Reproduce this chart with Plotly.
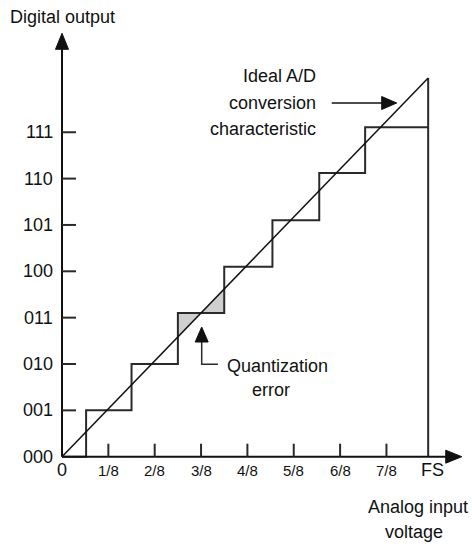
import plotly.graph_objects as go

# digital output codes (y) and analog input fractions (x)
codes = ["000", "001", "010", "011", "100", "101", "110", "111"]
x_labels = ["0", "1/8", "2/8", "3/8", "4/8", "5/8", "6/8", "7/8", "FS"]

# staircase transfer function (units of 1 LSB)
step_edges = [0, 0.52, 1.5, 2.5, 3.5, 4.54, 5.55, 6.54, 7.9]
step_levels = [0, 1, 2, 3.1, 4.1, 5.1, 6.12, 7.11]

# ideal characteristic end point (FS)
ideal_x = [0, 7.9]
ideal_y = [0, 8.17]

PX = 46.35  # pixels per LSB
W, H = 472, 544
X0, Y0 = 62, 456.7  # pixel position of origin
FONT = "Liberation Sans, Arial, sans-serif"
INK = "#111111"


def dx(px):
    return px / PX


def head(tx, ty, ux, uy, length=16, width=13):
    # filled arrowhead, tip at (tx, ty), pointing along (ux, uy)
    bx, by = tx - ux * dx(length), ty - uy * dx(length)
    px_, py_ = -uy * dx(width) / 2, ux * dx(width) / 2
    return dict(type="path", xref="x", yref="y",
                path=f"M{tx},{ty} L{bx + px_},{by + py_} L{bx - px_},{by - py_} Z",
                fillcolor=INK, line=dict(color=INK, width=1))


fig = go.Figure()

slope = ideal_y[1] / ideal_x[1]

# shaded quantization error around code 011
k = 3
lvl = step_levels[k]
xa, xb = step_edges[k], step_edges[k + 1]
xc = lvl / slope
fig.add_trace(go.Scatter(x=[xa, xa, xc, xa], y=[xa * slope, lvl, lvl, xa * slope],
                         fill="toself", fillcolor="#cfcfcf", mode="none", hoverinfo="skip"))
fig.add_trace(go.Scatter(x=[xc, xb, xb, xc], y=[lvl, lvl, xb * slope, lvl],
                         fill="toself", fillcolor="#cfcfcf", mode="none", hoverinfo="skip"))

# staircase
sx, sy = [0], [0]
for i in range(1, len(step_levels)):
    sx += [step_edges[i], step_edges[i]]
    sy += [step_levels[i - 1], step_levels[i]]
sx.append(step_edges[-1])
sy.append(step_levels[-1])
fig.add_trace(go.Scatter(x=sx, y=sy, mode="lines", line=dict(color="#2a2a2a", width=2),
                         hoverinfo="skip"))
# FS vertical
fig.add_trace(go.Scatter(x=[ideal_x[1], ideal_x[1]], y=[0, ideal_y[1]], mode="lines",
                         line=dict(color="#2a2a2a", width=2), hoverinfo="skip"))
# ideal line
fig.add_trace(go.Scatter(x=ideal_x, y=ideal_y, mode="lines", line=dict(color=INK, width=1.5),
                         hoverinfo="skip"))

shapes = []
# axes
shapes.append(dict(type="line", xref="x", yref="y", x0=0, y0=0, x1=0, y1=9.0,
                   line=dict(color=INK, width=2)))
shapes.append(dict(type="line", xref="x", yref="y", x0=0, y0=0, x1=8.45, y1=0,
                   line=dict(color=INK, width=2)))
shapes.append(head(0, 9.135, 0, 1))
shapes.append(head(8.624, 0, 1, 0))
# ticks
for i in range(1, len(codes)):
    shapes.append(dict(type="line", xref="x", yref="y", x0=0, y0=i, x1=dx(14), y1=i,
                       line=dict(color="#2a2a2a", width=2)))
for i in range(1, len(x_labels) - 1):
    shapes.append(dict(type="line", xref="x", yref="y", x0=i, y0=0, x1=i, y1=dx(13),
                       line=dict(color="#2a2a2a", width=2)))
# callout arrows
shapes.append(dict(type="line", xref="x", yref="y", x0=5.819, y0=7.631, x1=7.0, y1=7.631,
                   line=dict(color=INK, width=1.5)))
shapes.append(head(7.221, 7.631, 1, 0, length=15, width=13))
shapes.append(dict(type="path", xref="x", yref="y",
                   path="M3.366,1.993 L3.014,1.993 L3.014,2.55",
                   line=dict(color="#2a2a2a", width=1.5)))
shapes.append(head(3.014, 2.798, 0, 1, length=15, width=13))

ann = []
ann.append(dict(x=0, y=9.487, text="Digital output", font=dict(size=18)))
for i, c in enumerate(codes):
    ann.append(dict(x=-0.151, y=i, text=c, xanchor="right", font=dict(size=18)))
for i, t in enumerate(x_labels):
    size = 18 if t in ("0", "FS") else 15
    ann.append(dict(x=i, y=-0.287, text=t, font=dict(size=size)))
ann.append(dict(x=7.68, y=-1.085, text="Analog input", font=dict(size=18)))
ann.append(dict(x=7.6, y=-1.625, text="voltage", font=dict(size=18)))
for t, yy in zip(["Ideal A/D", "conversion", "characteristic"], [8.214, 7.631, 7.07]):
    ann.append(dict(x=5.523, y=yy, text=t, xanchor="right", font=dict(size=18)))
ann.append(dict(x=4.66, y=1.957, text="Quantization", font=dict(size=18)))
ann.append(dict(x=4.51, y=1.439, text="error", font=dict(size=18)))
for a in ann:
    a.update(xref="x", yref="y", showarrow=False, yanchor="middle")
    a.setdefault("xanchor", "center")
    a["font"].update(family=FONT, color=INK)

fig.update_layout(
    width=W, height=H, margin=dict(l=0, r=0, t=0, b=0),
    paper_bgcolor="white", plot_bgcolor="white", showlegend=False,
    xaxis=dict(range=[-X0 / PX, (W - X0) / PX], visible=False, fixedrange=True),
    yaxis=dict(range=[-(H - Y0) / PX, Y0 / PX], visible=False, fixedrange=True),
    shapes=shapes, annotations=ann,
)
# drop the browser's default body margin so the figure fills the window exactly
fig.write_html("out.html", config={"displayModeBar": False},
               post_script="document.body.style.margin='0';document.body.style.overflow='hidden';")
